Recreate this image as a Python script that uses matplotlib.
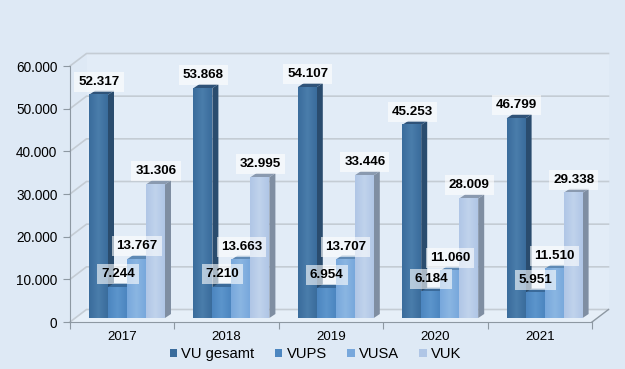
from matplotlib import pyplot as plt
from matplotlib.patches import Polygon
from matplotlib.colors import LinearSegmentedColormap
import numpy as np

plt.rcParams['font.family'] = ['Liberation Sans', 'DejaVu Sans']

years = ["2017", "2018", "2019", "2020", "2021"]
series = ["VU gesamt", "VUPS", "VUSA", "VUK"]
vu_gesamt = [52317, 53868, 54107, 45253, 46799]
vups = [7244, 7210, 6954, 6184, 5951]
vusa = [13767, 13663, 13707, 11060, 11510]
vuk = [31306, 32995, 33446, 28009, 29338]
y_ticks = [0, 10000, 20000, 30000, 40000, 50000, 60000]

# front, gradient end, side, top
colors = [("#3a6c9c", "#4a7dab", "#2a4c6e", "#2f5379"),
          ("#4c86c0", "#5c95cc", "#35608c", "#3a6a9a"),
          ("#78a8dc", "#8ab6e2", "#5a80a8", "#5f8ab5"),
          ("#b0c6e6", "#c0d3ec", "#7f8ea2", "#8a9ab0")]

bg = "#dee9f5"
fig = plt.figure(figsize=(6.25, 3.69), dpi=100, facecolor=bg)
ax = fig.add_axes([70 / 625, (369 - 322) / 369, 522 / 625, 256 / 369])
ax.set_xlim(0, 5)
ax.set_ylim(0, 60000)
ax.patch.set_visible(False)

# pixel -> data
px = 5 / 522
py = 60000 / 256
wall_x, wall_y = 16.5 * px, 12.5 * py
bar_x, bar_y = 5.5 * px, 4 * py      # where bars stand on the floor
dep_x, dep_y = 6 * px, 4 * py        # depth of a bar
w = 19 * px
line_c = "#8d98a2"
grid_c = "#c4ccd4"

# back wall, floor, grid
ax.add_patch(Polygon([(wall_x, wall_y), (5 + wall_x, wall_y), (5 + wall_x, 60000 + wall_y), (wall_x, 60000 + wall_y)],
                     fc="#e2ecf7", ec="none", zorder=1, clip_on=False))
ax.add_patch(Polygon([(0, 0), (5, 0), (5 + wall_x, wall_y), (wall_x, wall_y)],
                     fc="#e6eff8", ec="none", zorder=1, clip_on=False))
for t in y_ticks:
    ax.plot([0, wall_x, 5 + wall_x], [t, t + wall_y, t + wall_y], color=grid_c,
            lw=1.2, zorder=1, clip_on=False)
ax.plot([5, 5 + wall_x], [0, wall_y], color=line_c, lw=1, zorder=1, clip_on=False)

ax.spines[["top", "right"]].set_visible(False)
for s in ["left", "bottom"]:
    ax.spines[s].set_color(line_c)
ax.set_yticks(y_ticks)
ax.set_yticklabels([f"{t:,}".replace(",", ".") for t in y_ticks], fontsize=9.8, color="black")
ax.set_xticks(range(6))
ax.set_xticklabels([])
ax.tick_params(axis="both", color=line_c, length=5, direction="out", pad=4)
for i, y in enumerate(years):
    ax.text(i + 0.5, -3500, y, ha="center", va="center", fontsize=9.6)

values = [vu_gesamt, vups, vusa, vuk]
z = 3
handles = []
for i in range(len(years)):
    for k in range(len(series)):
        v = values[k][i]
        x0 = i + w + k * w
        y0 = bar_y
        x1 = x0 + w
        y1 = y0 + v
        c1, c2, side, top = colors[k]
        ax.add_patch(Polygon([(x1, y0), (x1 + dep_x, y0 + dep_y), (x1 + dep_x, y1 + dep_y), (x1, y1)],
                             fc=side, ec="none", zorder=z, clip_on=False))
        ax.add_patch(Polygon([(x0, y1), (x1, y1), (x1 + dep_x, y1 + dep_y), (x0 + dep_x, y1 + dep_y)],
                             fc=top, ec="none", zorder=z, clip_on=False))
        b = ax.bar(x0, v, width=w, bottom=y0, align="edge", color=c1, zorder=z + 1, clip_on=False)[0]
        cmap = LinearSegmentedColormap.from_list("g", [c1, c2, c1])
        im = ax.imshow(np.linspace(0, 1, 32).reshape(1, -1), extent=(x0, x1, y0, y1), aspect="auto",
                       cmap=cmap, zorder=z + 2, clip_on=False)
        z += 3
        if i == 0:
            handles.append(b)
ax.set_xlim(0, 5)
ax.set_ylim(0, 60000)

for i in range(len(years)):
    for k in range(len(series)):
        v = values[k][i]
        x = i + w + k * w + w / 2
        ax.text(x + 0.5 * px, bar_y + v + dep_y + 9 * py, f"{v:,}".replace(",", "."), ha="center", va="center",
                fontsize=9.6, fontweight="bold", zorder=1000, clip_on=False,
                bbox=dict(boxstyle="square,pad=0.3", fc="white", ec="none", alpha=0.6))

fig.legend(handles, series, loc="center", bbox_to_anchor=(315.5 / 625, 1 - 354 / 369), ncol=4, frameon=False,
           fontsize=10.6, handlelength=0.5, handleheight=0.5, handletextpad=0.28, columnspacing=1.4, borderpad=0)

plt.savefig("out.png", dpi=100, facecolor=bg)
